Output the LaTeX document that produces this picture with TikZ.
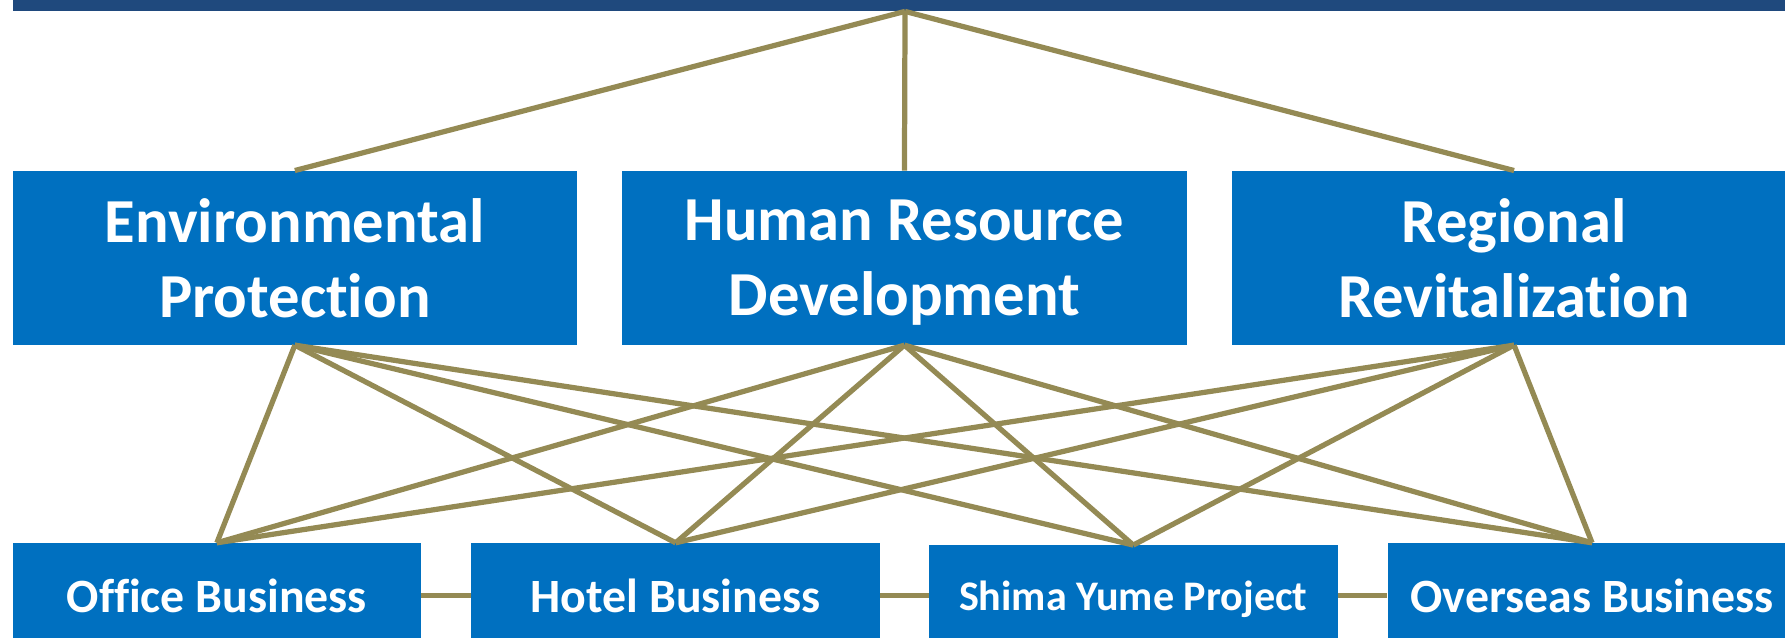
\documentclass[tikz,border=0pt]{standalone}
\usepackage{fontspec}
\setmainfont{Carlito}[Ligatures=NoCommon]
\definecolor{barblue}{HTML}{1F497D}
\definecolor{boxblue}{HTML}{0070C0}
\definecolor{linkolive}{HTML}{948A54}
\begin{document}
\begin{tikzpicture}[x=1pt,y=-1pt,
	pillar/.style={fill=boxblue, text=white, font=\bfseries\fontsize{55}{66}\selectfont,
		align=center, minimum width=496pt, minimum height=153pt, inner sep=0pt, text depth=0pt},
	business/.style={fill=boxblue, text=white, font=\bfseries\fontsize{42}{50}\selectfont,
		minimum width=359pt, minimum height=92pt, inner sep=0pt, text depth=0pt},
	link/.style={linkolive, line width=4.6pt}]
	% Page
	\useasboundingbox (0,0) rectangle (1568,560);
	\clip (0,0) rectangle (1568,560);
	
	% Top bar
	\fill[barblue] (11,-20) rectangle (1600,10);
	\coordinate (hub) at (795,10);
	
	% Pillars
	\node[pillar] (env) at (259,226.5) {Environmental\\Protection};
	\node[pillar] (hr) at (794.5,226.5) {Human Resource\\Development};
	\node[pillar] (reg) at (1330,226.5) {Regional\\Revitalization};
	
	% Businesses
	\node[business] (office) at (190.5,523) {Office Business};
	\node[business] (hotel) at (593.5,523) {Hotel Business};
	\node[business, minimum height=88pt, font=\bfseries\fontsize{37}{44}\selectfont] (shima) at (995.5,523) {Shima Yume Project};
	\node[business] (overseas) at (1398.5,523) {Overseas Business};
	
	% Links
	\foreach \p in {env,hr,reg}
	\draw[link] (hub) -- (\p.north);
	
	\foreach \p in {env,hr,reg}
	\foreach \b in {office,hotel,shima,overseas}
	\draw[link] (\p.south) -- (\b.north);
	
	\draw[link] (office) -- (hotel);
	\draw[link] (hotel) -- (shima);
	\draw[link] (shima) -- (overseas);
\end{tikzpicture}
\end{document}
